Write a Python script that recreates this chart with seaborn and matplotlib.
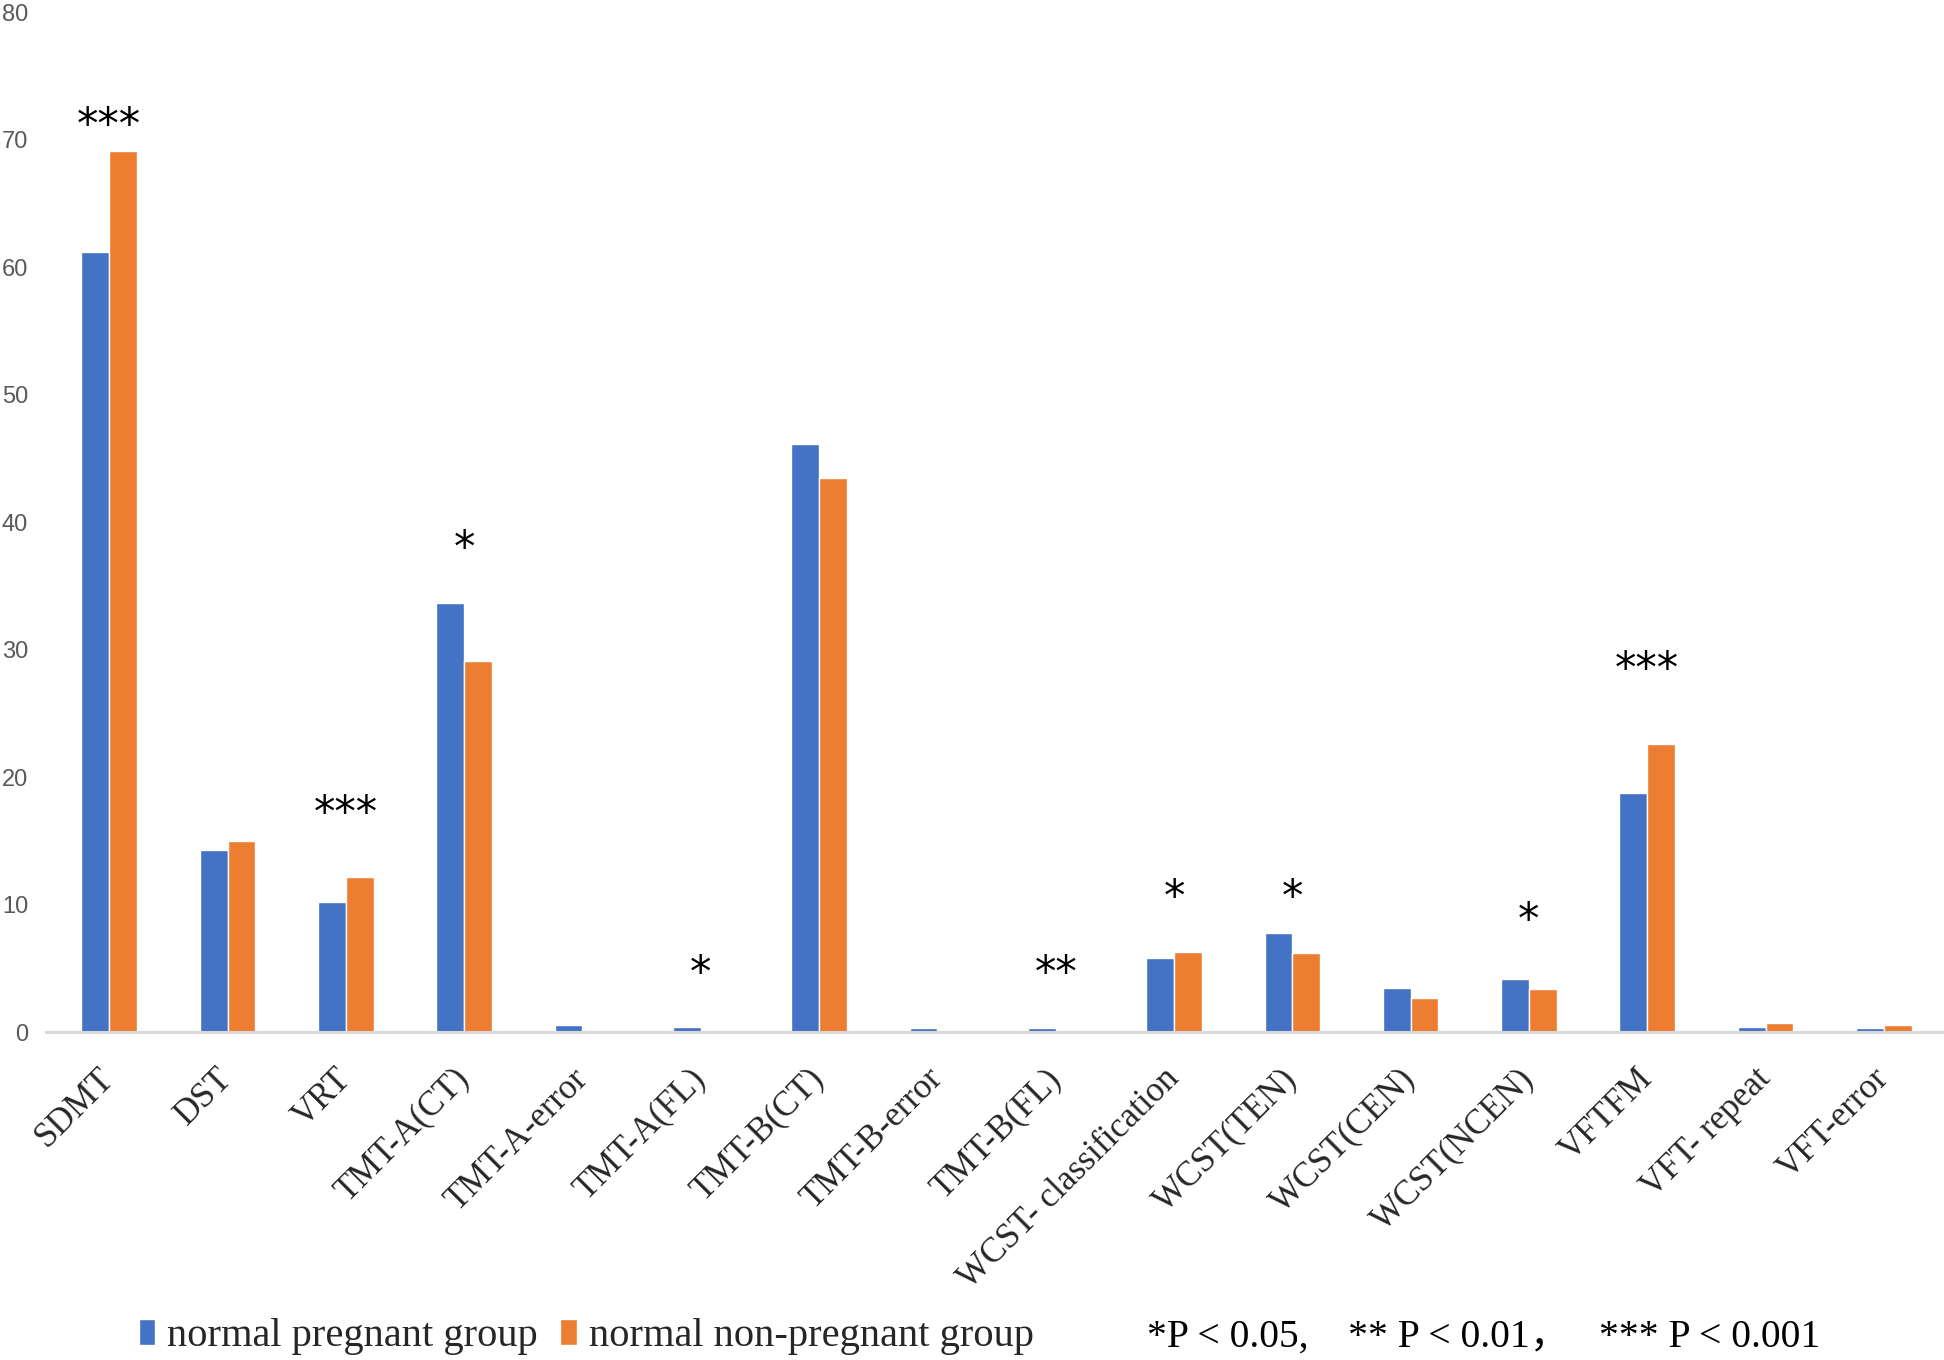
import pandas as pd
import seaborn as sns
import matplotlib.pyplot as plt

sns.set_style("white")

# ======================
# data

tests = ['SDMT', 'DST', 'VRT', 'TMT-A(CT)', 'TMT-A-error', 'TMT-A(FL)',
         'TMT-B(CT)', 'TMT-B-error', 'TMT-B(FL)', 'WCST- classification',
         'WCST(TEN)', 'WCST(CEN)', 'WCST(NCEN)', 'VFTFM', 'VFT- repeat', 'VFT-error']
pregnant = [61.2, 14.3, 10.2, 33.7, 0.55, 0.45, 46.1, 0.35, 0.35, 5.8,
            7.8, 3.5, 4.2, 18.8, 0.45, 0.35]
non_pregnant = [69.1, 15.0, 12.2, 29.1, 0.0, 0.0, 43.5, 0.0, 0.0, 6.3,
                6.2, 2.7, 3.4, 22.6, 0.7, 0.6]
group_names = ['normal pregnant group', 'normal non-pregnant group']

# significance marks and the height they sit at
sig_tests = ['SDMT', 'VRT', 'TMT-A(CT)', 'TMT-A(FL)', 'TMT-B(FL)',
             'WCST- classification', 'WCST(TEN)', 'WCST(NCEN)', 'VFTFM']
sig_marks = ['***', '***', '*', '*', '**', '*', '*', '*', '***']
sig_height = [71.1, 17.1, 37.9, 4.6, 4.6, 10.5, 10.5, 8.7, 28.4]

p_note = '*P < 0.05,    ** P < 0.01，   *** P < 0.001'

df = pd.DataFrame({
    'test': tests * 2,
    'value': pregnant + non_pregnant,
    'group': [group_names[0]] * len(tests) + [group_names[1]] * len(tests),
})

# ======================
# plot

fig = plt.figure(figsize=(19.44, 13.6), dpi=100)
ax = fig.add_axes([0.0237, 0.241, 0.9758, 0.750])

sns.barplot(data=df, x='test', y='value', hue='group', order=tests,
            hue_order=group_names, palette=['#4472C4', '#ED7D31'],
            saturation=1, width=0.47, ax=ax)

ax.set_ylim(0, 80)
ax.set_yticks(range(0, 81, 10))
ax.set_xlim(-0.534, len(tests) - 0.5)
ax.set_xlabel('')
ax.set_ylabel('')

for side in ['top', 'right', 'left']:
    ax.spines[side].set_visible(False)
ax.spines['bottom'].set_color('#D9D9D9')
ax.spines['bottom'].set_linewidth(2.2)

ax.tick_params(axis='y', length=0, pad=13, labelsize=17, labelcolor='#595959')
for lab in ax.get_yticklabels():
    lab.set_family('Liberation Sans')
ax.tick_params(axis='x', length=0, pad=30)
ax.set_xticks(range(len(tests)))
ax.set_xticklabels(tests, rotation=45, ha='right', va='center',
                   rotation_mode='anchor',
                   fontsize=25, family='Liberation Serif', color='#262626')

# significance stars
for t, m, h in zip(sig_tests, sig_marks, sig_height):
    ax.text(tests.index(t), h, m, ha='center', va='center',
            fontsize=31, family='DejaVu Sans', color='black')

# legend at the bottom
handles, labels = ax.get_legend_handles_labels()
ax.get_legend().remove()
fig.legend(handles, labels, loc='center left', bbox_to_anchor=(0.0715, 0.017),
           ncol=2, frameon=False, borderpad=0, borderaxespad=0,
           handlelength=0.40, handleheight=0.62, handletextpad=0.3,
           columnspacing=0.55,
           prop={'family': 'Liberation Serif', 'size': 29.2})

fig.text(0.59, 0.017, p_note, ha='left', va='center', fontsize=28.5,
         family=['Liberation Serif', 'Noto Sans CJK SC'], color='black')

plt.savefig('out.png', dpi=100)
plt.close()
